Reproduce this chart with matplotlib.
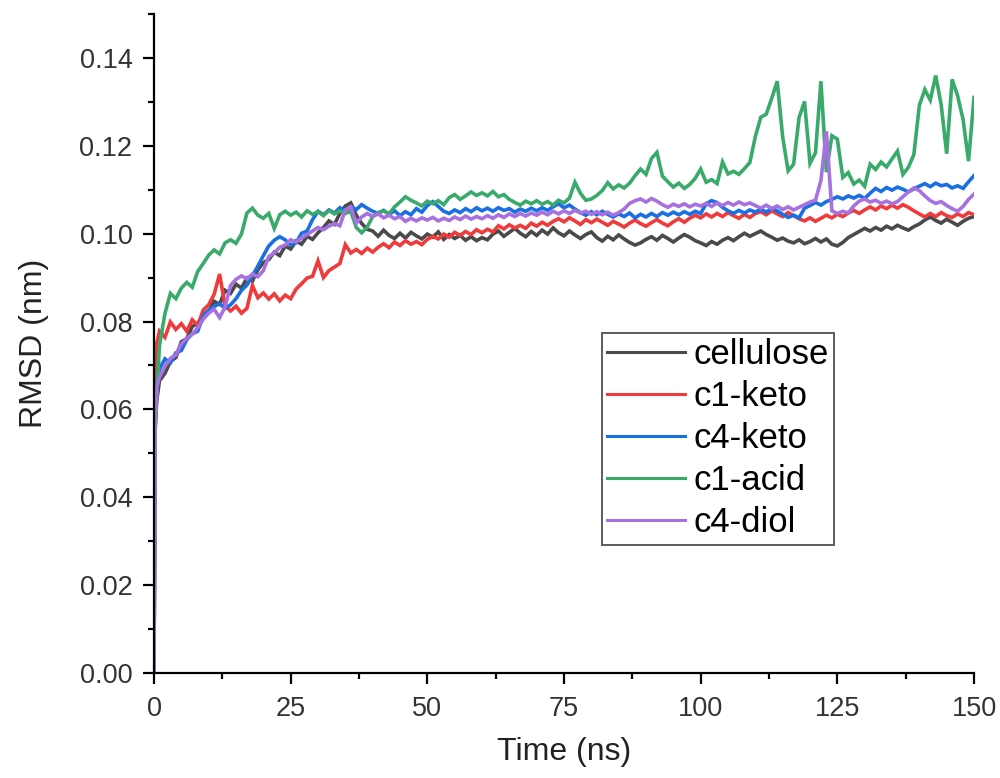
import numpy as np
import matplotlib
matplotlib.use("Agg")
import matplotlib.pyplot as plt
from matplotlib.ticker import MultipleLocator

plt.rcParams['font.family'] = ['Liberation Sans', 'DejaVu Sans']

# time axis (ns): a few early frames, then every 1 ns
time = np.concatenate([[0, 0.2, 0.5], np.arange(1, 151)])

# RMSD values, in 1e-3 nm
cellulose = [0, 55, 62,
    66.5, 68.2, 70.9, 71.8, 75.4, 76.1, 78.9, 79.5, 81.6, 82.4,
    84.6, 83.9, 87.1, 86.4, 88.5, 87.6, 89.9, 89.2, 91.8, 93.4,
    94.1, 95.8, 95.0, 97.2, 96.5, 98.3, 97.6, 99.4, 98.7, 100.2,
    101.4, 102.9, 102.1, 104.6, 106.3, 107.0, 104.2, 102.3, 101.0, 100.6,
    99.4, 100.8, 99.6, 98.9, 100.1, 99.0, 100.3, 99.5, 98.8, 99.9,
    99.2, 100.4, 98.7, 99.8, 98.9, 99.6, 98.5, 99.3, 98.4, 99.1,
    98.6, 99.9, 100.6, 99.4, 100.3, 101.2, 100.1, 99.3, 100.5, 99.6,
    100.8, 99.9, 101.3, 100.2, 99.5, 100.6, 99.7, 98.9, 99.8, 100.4,
    99.1, 98.3, 99.4, 98.6, 99.7, 98.8, 98.0, 97.4, 97.9, 98.7,
    99.3, 98.5, 99.6, 98.9, 98.1, 99.0, 99.8, 99.2, 98.4, 97.9,
    97.3, 98.2, 97.6, 98.5, 99.1, 98.4, 99.3, 100.1, 99.4, 100.0,
    100.6, 99.8, 99.2, 98.5, 99.0, 98.3, 97.9, 98.6, 97.7, 98.2,
    98.9, 98.1, 98.8, 97.6, 97.2, 98.0, 99.1, 99.8, 100.5, 101.2,
    100.6, 101.4, 100.8, 101.7, 101.1, 101.9, 101.3, 100.8, 101.6, 102.2,
    103.1, 103.8, 103.0, 102.4, 103.3, 102.6, 101.9, 102.8, 103.5, 103.9]

c1_keto = [0, 62, 75,
    77.8, 76.4, 79.9, 78.2, 79.5, 77.8, 80.4, 79.1, 82.6, 83.8,
    86.2, 90.8, 83.6, 82.4, 83.5, 81.9, 83.0, 88.2, 85.4, 86.5,
    85.1, 86.3, 84.7, 86.0, 85.2, 87.4, 88.6, 89.9, 90.3, 93.8,
    90.0, 91.6, 92.4, 93.2, 97.5, 95.6, 96.4, 95.5, 96.7, 95.8,
    96.9, 97.7, 96.8, 98.1, 97.3, 98.4, 97.6, 98.2, 97.5, 98.7,
    99.4, 98.8, 99.9, 99.2, 100.3, 99.6, 100.5, 99.8, 100.9, 100.2,
    101.0, 100.4, 101.8, 101.1, 102.0, 101.3, 101.9, 101.2, 102.4, 101.7,
    102.6, 101.9, 102.8, 103.4, 102.7, 103.6, 102.9, 102.1, 103.2, 102.5,
    103.3, 102.6, 101.9, 102.8, 102.2, 101.5, 102.4, 103.1, 102.3, 101.7,
    102.5, 103.2, 102.4, 101.8, 102.7, 103.4, 102.6, 103.5, 104.2, 103.6,
    104.5, 103.8, 104.6, 103.9, 104.8, 104.1, 103.5, 104.4, 103.7, 104.6,
    105.0, 104.3, 105.2, 104.5, 103.9, 104.8, 104.1, 103.4, 102.9, 103.6,
    102.8, 103.5, 104.2, 103.6, 104.4, 103.9, 104.7, 105.3, 104.6, 105.4,
    106.1, 105.4, 106.3, 105.7, 106.5, 105.8, 106.6, 106.0, 105.2, 104.5,
    103.8, 104.6, 103.9, 104.8, 104.1, 103.7, 104.5, 103.9, 104.8, 104.3]

c4_keto = [0, 58, 66,
    69.2, 71.5, 70.6, 72.9, 73.4, 75.9, 77.2, 77.8, 81.3, 82.6,
    83.4, 84.1, 83.0, 83.8, 85.2, 87.1, 88.3, 90.4, 92.6, 95.0,
    97.2, 98.5, 99.3, 98.6, 97.4, 97.9, 100.1, 100.6, 103.2, 105.1,
    104.3, 105.4, 104.7, 105.9, 105.2, 106.1, 105.5, 106.6, 105.8, 105.1,
    104.6, 105.3, 104.4, 105.2, 104.1, 105.0, 104.3, 105.7, 104.9, 106.4,
    107.3, 106.2, 105.1, 104.6, 105.4, 104.8, 105.7, 105.0, 105.9, 105.2,
    105.8, 105.1, 105.9, 105.3, 105.7, 104.9, 105.6, 105.1, 105.8, 105.2,
    105.9, 105.3, 106.1, 106.8, 105.9, 106.5, 105.6, 104.8, 104.2, 105.0,
    104.3, 105.1, 104.4, 103.8, 104.5, 103.9, 104.7, 103.6, 104.4, 103.8,
    104.6, 103.9, 104.8, 104.2, 104.9, 104.3, 105.0, 104.4, 105.1, 104.6,
    106.8, 107.5, 107.1, 106.0, 105.2, 104.6, 105.3, 104.7, 105.4, 104.9,
    105.6, 104.9, 105.8, 105.2, 104.4, 103.7, 104.2, 103.6, 105.8, 106.4,
    107.1, 106.5, 107.3, 107.8, 108.4, 107.9, 108.6, 108.1, 108.7, 108.0,
    109.2, 110.3, 109.6, 110.5, 109.9, 110.6, 110.1, 109.5, 110.2, 110.8,
    111.4, 110.7, 111.5, 110.9, 111.2, 110.4, 110.9, 110.3, 111.8, 113.2]

c1_acid = [0, 56, 63,
    74.5, 81.8, 86.4, 85.2, 87.6, 88.9, 87.8, 91.4, 93.2, 95.1,
    96.3, 95.4, 97.9, 98.6, 97.8, 99.9, 104.7, 105.8, 104.2, 103.5,
    104.6, 101.2, 104.3, 105.1, 104.2, 104.9, 103.8, 105.2, 104.4, 105.0,
    104.1, 105.3, 104.5, 105.2, 104.6, 105.1, 101.4, 100.2, 101.5, 103.9,
    104.8, 105.2, 104.5, 106.1, 107.2, 108.4, 107.6, 107.0, 106.3, 107.4,
    106.8, 107.5, 106.6, 108.2, 108.9, 107.8, 108.6, 109.5, 108.7, 109.3,
    108.6, 109.6, 108.4, 108.9, 107.8, 107.1, 106.5, 107.4, 106.8, 107.5,
    106.7, 107.3, 106.5, 107.6, 107.0, 108.1, 111.7, 109.2, 107.6, 107.9,
    108.7, 109.8, 111.6, 110.2, 111.1, 110.4, 111.5, 113.2, 114.7, 113.5,
    117.1, 118.5, 113.1, 111.8, 110.6, 111.5, 110.3, 111.2, 112.6, 114.7,
    111.7, 112.3, 111.4, 116.3, 113.6, 114.2, 113.5, 114.8, 116.2, 122.1,
    126.5, 127.2, 130.8, 134.7, 122.0, 114.3, 115.8, 126.4, 130.1, 116.0,
    118.4, 134.7, 114.0, 122.3, 121.5, 112.8, 113.9, 111.3, 112.2, 110.8,
    115.8, 114.6, 116.3, 115.2, 117.0, 118.8, 113.5, 115.1, 118.0, 129.2,
    132.8, 130.4, 136.0, 129.3, 118.2, 135.1, 131.4, 126.0, 116.5, 131.0]

c4_diol = [0, 57, 65,
    67.3, 69.8, 71.6, 72.4, 74.9, 76.2, 77.1, 78.6, 80.5, 81.9,
    82.8, 80.9, 83.3, 88.2, 89.6, 90.4, 89.7, 90.8, 90.2, 91.6,
    94.8, 95.6, 96.9, 97.4, 98.6, 98.1, 99.0, 99.8, 100.6, 101.4,
    100.9, 101.7, 102.3, 101.8, 105.4, 106.1, 102.4, 103.8, 104.6, 103.9,
    104.5, 103.6, 104.2, 103.4, 103.9, 102.8, 103.5, 102.9, 103.6, 103.1,
    103.7, 102.9, 103.5, 103.0, 103.8, 103.2, 104.0, 103.3, 103.9, 103.4,
    104.1, 103.5, 104.3, 103.7, 104.5, 103.9, 104.6, 104.0, 104.7, 104.2,
    104.9, 104.3, 105.1, 104.5, 105.2, 104.6, 105.3, 104.7, 105.1, 104.4,
    105.0, 104.3, 104.9, 104.2, 104.8, 105.6, 106.9, 107.5, 107.9, 107.2,
    108.0, 107.4, 106.6, 106.0, 106.7, 106.2, 106.8, 106.1, 106.7, 106.3,
    106.9, 106.2, 107.0, 106.4, 107.1, 106.5, 107.2, 106.6, 107.0, 106.4,
    105.8, 106.5, 105.7, 106.3, 105.5, 106.1, 105.4, 106.0, 106.6, 107.2,
    107.6, 112.1, 123.3, 105.2, 104.6, 105.1, 104.7, 106.3, 107.4, 107.9,
    107.2, 107.6, 106.9, 107.4, 106.8, 107.3, 108.4, 109.5, 110.4, 109.8,
    108.6, 107.5, 106.9, 107.3, 106.4, 105.7, 105.1, 106.2, 107.8, 109.0]

labels = ['cellulose', 'c1-keto', 'c4-keto', 'c1-acid', 'c4-diol']
series = [cellulose, c1_keto, c4_keto, c1_acid, c4_diol]
colors = ['#4a4a4a', '#ef3b3b', '#1a6fe3', '#3aaa6b', '#a771e0']

fig = plt.figure(figsize=(10, 7.78), dpi=100)
ax = fig.add_axes([0.154, 0.135, 0.82, 0.847])

for lab, s, c in zip(labels, series, colors):
    ax.plot(time, np.array(s) / 1000, color=c, lw=2.6, label=lab,
            solid_joinstyle='miter')

ax.set_xlim(0, 150)
ax.set_ylim(0, 0.15)
ax.xaxis.set_major_locator(MultipleLocator(25))
ax.xaxis.set_minor_locator(MultipleLocator(12.5))
ax.yaxis.set_major_locator(MultipleLocator(0.02))
ax.yaxis.set_minor_locator(MultipleLocator(0.01))
ax.yaxis.set_major_formatter(plt.FormatStrFormatter('%.2f'))

for side in ['top', 'right']:
    ax.spines[side].set_visible(False)
for side in ['left', 'bottom']:
    ax.spines[side].set_linewidth(1.6)
ax.tick_params(which='major', direction='out', length=8, width=1.6,
               labelsize=19.5, colors='#333333')
ax.tick_params(axis='y', which='major', pad=7.5)
ax.tick_params(axis='x', which='major', pad=8.5)
ax.tick_params(which='minor', direction='out', length=4.5, width=1.6)
for sp in ax.spines.values():
    sp.set_color('black')
ax.tick_params(which='both', color='black')

ax.set_xlabel('Time (ns)', fontsize=23, labelpad=11, color='#222222')
ax.set_ylabel('RMSD (nm)', fontsize=23, labelpad=22, color='#222222')

leg = ax.legend(loc='upper left', bbox_to_anchor=(0.602, 1 - 333 / 778),
                bbox_transform=fig.transFigure, fontsize=25, frameon=True,
                fancybox=False, edgecolor='#333333', handlelength=2.25,
                handletextpad=0.23, labelspacing=0.26, borderpad=0.15,
                borderaxespad=0)
leg.get_frame().set_linewidth(1.4)
for line in leg.get_lines():
    line.set_linewidth(2.2)

fig.savefig('out.png', dpi=100)
